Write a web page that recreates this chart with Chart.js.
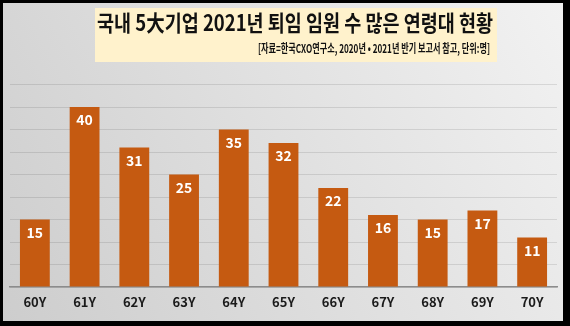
<!DOCTYPE html>
<html>
<head>
<meta charset="utf-8">
<script src="https://cdn.jsdelivr.net/npm/chart.js@4/dist/chart.umd.min.js"></script>
<style>
  html, body { margin: 0; padding: 0; background: #000; }
  #wrap { width: 570px; height: 326px; }
</style>
</head>
<body>
<div id="wrap"><canvas id="ageChart" width="570" height="326"></canvas></div>
<script>
// data
const ages = ['60Y', '61Y', '62Y', '63Y', '64Y', '65Y', '66Y', '67Y', '68Y', '69Y', '70Y'];
const retired = [15, 40, 31, 25, 35, 32, 22, 16, 15, 17, 11];
const titleText = '국내 5大기업 2021년 퇴임 임원 수 많은 연령대 현황';
const sourceText = '[자료=한국CXO연구소, 2020년 • 2021년 반기 보고서 참고, 단위:명]';

const KR = '"Noto Sans CJK KR", "Noto Sans", sans-serif';

// black frame, grey gradient panel and the yellow header box
const backdrop = {
    id: 'backdrop',
    beforeDraw(chart) {
        const c = chart.ctx;
        c.save();
        c.fillStyle = '#000';
        c.fillRect(0, 0, chart.width, chart.height);
        const g = c.createLinearGradient(3, 320, 563, 3);
        g.addColorStop(0, '#cdcdcd');
        g.addColorStop(1, '#f2f2f2');
        c.fillStyle = g;
        c.fillRect(3, 3, 560, 318);
        c.restore();
    },
    afterDatasetsDraw(chart) {
        const c = chart.ctx;
        c.save();
        c.fillStyle = '#fff2cc';
        c.fillRect(95, 8, 402, 54);
        c.fillStyle = '#111';
        c.textBaseline = 'middle';
        c.textAlign = 'center';
        c.font = 'bold 22px ' + KR;
        c.fillText(titleText, 295, 23, 396);
        c.textAlign = 'right';
        c.font = 'bold 12px ' + KR;
        c.fillText(sourceText, 490, 48, 232);
        c.restore();
    }
};

// white value labels inside the top of each bar
const barLabels = {
    id: 'barLabels',
    afterDatasetsDraw(chart) {
        const c = chart.ctx;
        const meta = chart.getDatasetMeta(0);
        c.save();
        c.fillStyle = '#fff';
        c.font = 'bold 14px ' + KR;
        c.textAlign = 'center';
        c.textBaseline = 'middle';
        meta.data.forEach((bar, i) => {
            c.fillText(retired[i], bar.x, bar.y + 13);
        });
        c.restore();
    }
};

new Chart(document.getElementById('ageChart'), {
    type: 'bar',
    data: {
        labels: ages,
        datasets: [{
            data: retired,
            backgroundColor: '#c55a11',
            barPercentage: 0.6,
            categoryPercentage: 1
        }]
    },
    options: {
        responsive: false,
        animation: false,
        layout: { padding: { left: 10, right: 13, top: 62, bottom: 15 } },
        plugins: {
            legend: { display: false },
            tooltip: { enabled: false }
        },
        scales: {
            x: {
                grid: { display: false, drawTicks: false },
                border: { color: '#8c8c8c', width: 1.5 },
                ticks: { color: '#1a1a1a', font: { family: KR, size: 13, weight: 'bold' }, padding: 7 },
                afterFit(axis) { axis.height = 24; }
            },
            y: {
                min: 0,
                max: 50,
                ticks: { stepSize: 5, display: false },
                grid: {
                    color: ctx => ctx.tick && ctx.tick.value === 50 ? 'rgba(0,0,0,0)' : 'rgba(0,0,0,0.1)',
                    lineWidth: 1,
                    drawTicks: false
                },
                border: { display: false },
                afterFit(axis) { axis.width = 0; }
            }
        }
    },
    plugins: [backdrop, barLabels]
});
</script>
</body>
</html>
